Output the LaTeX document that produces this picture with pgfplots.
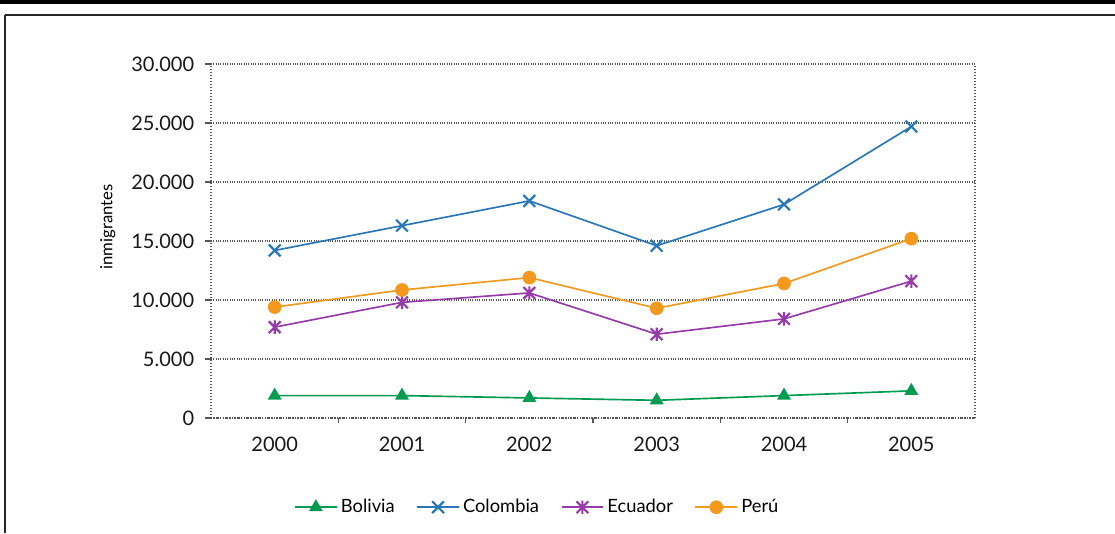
\documentclass[border=0pt]{standalone}
\usepackage{fontspec}
\setmainfont{Lato}
\usepackage{pgfplots}
\pgfplotsset{compat=1.18}
\pgfdeclareplotmark{xstar}{%
  \pgfpathmoveto{\pgfqpoint{-.7071\pgfplotmarksize}{-.7071\pgfplotmarksize}}%
  \pgfpathlineto{\pgfqpoint{.7071\pgfplotmarksize}{.7071\pgfplotmarksize}}%
  \pgfpathmoveto{\pgfqpoint{-.7071\pgfplotmarksize}{.7071\pgfplotmarksize}}%
  \pgfpathlineto{\pgfqpoint{.7071\pgfplotmarksize}{-.7071\pgfplotmarksize}}%
  \pgfpathmoveto{\pgfqpoint{0pt}{-.8\pgfplotmarksize}}%
  \pgfpathlineto{\pgfqpoint{0pt}{.8\pgfplotmarksize}}%
  \pgfusepathqstroke}
\definecolor{cBol}{RGB}{0,155,80}
\definecolor{cCol}{RGB}{40,120,185}
\definecolor{cEcu}{RGB}{150,60,170}
\definecolor{cPer}{RGB}{243,154,30}
\definecolor{gridc}{RGB}{85,85,85}
\begin{document}
\begin{tikzpicture}
\useasboundingbox (0,0) rectangle (669pt,319.8pt);
\fill[black] (0,317.4pt) rectangle (669pt,319.8pt);
\draw[black!85,line width=0.9pt] (3pt,310.8pt) -- (669pt,310.8pt);
\draw[black!85,line width=1.2pt] (3pt,310.8pt) -- (3pt,0);
\begin{axis}[
  at={(126.6pt,69pt)}, anchor=south west,
  width=458.4pt, height=212.4pt, scale only axis,
  xmin=-0.5, xmax=5.5, ymin=0, ymax=30000,
  xtick={0,1,2,3,4,5},
  xticklabels={2000,2001,2002,2003,2004,2005},
  minor xtick={0.5,1.5,2.5,3.5,4.5},
  ytick={0,5000,10000,15000,20000,25000,30000},
  scaled y ticks=false,
  yticklabel={\pgfmathprintnumber[fixed,precision=0,1000 sep={.},assume math mode=true]{\tick}},
  tick pos=left, tick align=outside,
  major x tick style={draw=none},
  minor tick length=3pt, major tick length=3.6pt,
  ymajorgrids,
  grid style={gridc, densely dotted, line width=0.8pt},
  axis line style={gridc, densely dotted, line width=0.8pt},
  tick style={gridc, line width=0.8pt},
  axis x line*=bottom,
  ticklabel style={font=\fontsize{12}{14}\selectfont, text=black!90},
  yticklabel style={xshift=-3pt},
  xticklabel style={yshift=-4pt},
  ylabel={inmigrantes},
  ylabel style={font=\fontsize{10}{12}\selectfont, at={(rel axis cs:-0.135,0.54)}, anchor=center},
  legend columns=4,
  legend style={at={(0.428,-0.252)}, anchor=center, draw=none, fill=none,
    font=\fontsize{11}{13}\selectfont, inner sep=0pt,
    /tikz/every even column/.append style={column sep=11pt}},
  legend image code/.code={\draw[mark repeat=2,mark phase=2] plot coordinates {(0pt,0pt)(12.5pt,0pt)(25pt,0pt)};},
  every axis plot/.append style={line width=1pt},
]
\draw[gridc, densely dotted, line width=0.8pt] (rel axis cs:1,0) -- (rel axis cs:1,1);
\draw[gridc, densely dotted, line width=0.8pt] (rel axis cs:0,0) -- (rel axis cs:0,1);
\addplot[cBol, mark=triangle*, mark size=3.8pt] coordinates {(0,1900)(1,1900)(2,1700)(3,1500)(4,1900)(5,2300)};
\addlegendentry{Bolivia}
\addplot[cCol, mark=x, mark size=5pt, mark options={line width=1.3pt}] coordinates {(0,14200)(1,16300)(2,18400)(3,14600)(4,18100)(5,24700)};
\addlegendentry{Colombia}
\addplot[cEcu, mark=xstar, mark size=5pt, mark options={line width=1.3pt}] coordinates {(0,7700)(1,9800)(2,10600)(3,7100)(4,8400)(5,11600)};
\addlegendentry{Ecuador}
\addplot[cPer, mark=*, mark size=3.6pt] coordinates {(0,9400)(1,10850)(2,11900)(3,9300)(4,11400)(5,15200)};
\addlegendentry{Perú}
\end{axis}
\end{tikzpicture}
\end{document}
